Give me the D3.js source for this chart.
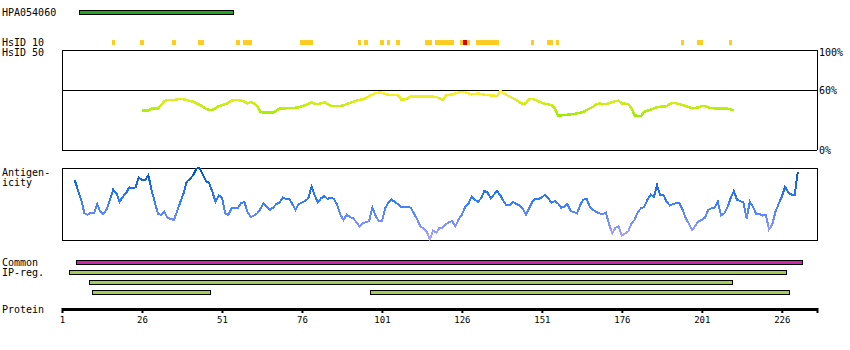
<!DOCTYPE html>
<html>
<head>
<meta charset="utf-8">
<script src="https://cdn.jsdelivr.net/npm/d3@7"></script>
<style>
  html, body { margin: 0; padding: 0; background: #fff; }
  svg text { font-family: "DejaVu Sans Mono", "Liberation Mono", monospace; font-size: 10px; fill: #000; }
  svg .tick text { font-size: 9px; }
</style>
</head>
<body>
<svg id="chart" width="850" height="350"></svg>
<script>
// Protein length and axis ticks
const proteinLength = 237;
const tickResidues = [1, 26, 51, 76, 101, 126, 151, 176, 201, 226];

// Antibody antigen region
const antigenName = "HPA054060";
const antigenRange = [7, 54];

// HsID 10 hits: [start, end, level] (level 1 = high identity)
const hsid10 = [
  [17, 17, 0], [26, 26, 0], [36, 36, 0], [44, 45, 0], [56, 56, 0], [58, 60, 0],
  [76, 79, 0], [94, 94, 0], [96, 96, 0], [101, 101, 0], [103, 103, 0], [106, 106, 0],
  [115, 116, 0], [118, 123, 0], [126, 126, 0], [127, 127, 1], [128, 128, 0],
  [131, 137, 0], [148, 148, 0], [153, 154, 0], [156, 156, 0],
  [195, 195, 0], [200, 201, 0], [210, 210, 0]
];

// Sequence similarity (%), residues 26..211
const simStart = 26;
const similarity = [
  39.3, 39.3, 39.3, 41.7, 41.7, 41.7, 45.0, 49.0, 50.0, 50.0,
  50.0, 50.7, 51.0, 50.7, 50.0, 49.0, 48.3, 46.7, 45.3, 43.3,
  41.3, 40.0, 40.0, 41.7, 44.0, 44.7, 45.7, 47.3, 49.3, 50.0,
  50.0, 49.3, 48.3, 46.7, 48.0, 46.7, 44.0, 38.3, 37.3, 37.3,
  37.3, 37.3, 39.3, 41.7, 41.7, 41.7, 42.0, 42.0, 42.3, 42.7,
  44.0, 44.7, 46.0, 47.7, 46.3, 46.0, 46.7, 47.7, 46.0, 44.3,
  44.0, 44.0, 44.0, 44.7, 46.0, 47.3, 48.0, 49.3, 50.0, 50.7,
  52.0, 54.0, 55.3, 57.0, 57.3, 57.3, 56.0, 55.3, 55.0, 55.0,
  55.0, 50.7, 50.7, 51.7, 53.3, 53.3, 53.3, 53.3, 53.3, 53.3,
  53.3, 53.3, 53.0, 51.7, 50.0, 54.7, 55.0, 55.7, 56.7, 57.3,
  58.3, 57.7, 56.7, 55.7, 56.0, 56.7, 56.0, 55.3, 55.0, 54.7,
  54.3, 54.0, 59.0, 56.7, 55.0, 53.3, 51.7, 50.0, 47.7, 46.0,
  46.7, 51.0, 51.0, 50.0, 48.7, 47.3, 46.3, 45.7, 45.0, 41.7,
  34.7, 34.7, 35.0, 35.3, 35.7, 36.0, 36.7, 37.3, 38.3, 40.0,
  41.7, 43.3, 45.7, 46.7, 45.7, 46.0, 46.7, 48.0, 49.0, 49.3,
  46.7, 46.3, 46.0, 41.7, 34.7, 34.0, 34.0, 38.3, 39.3, 40.3,
  41.7, 42.7, 43.3, 43.3, 44.0, 46.0, 47.3, 46.7, 46.0, 45.0,
  44.0, 42.7, 41.7, 42.0, 42.7, 44.0, 43.7, 42.7, 42.0, 41.7,
  41.7, 41.7, 41.7, 41.3, 40.7, 39.3
];

// Antigenicity score (0 = lowest, 100 = highest), residues 5..231
const antStart = 5;
const antigenicity = [
  83, 69, 56, 37, 35, 38, 37, 50, 39, 36,
  43, 56, 70, 65, 53, 60, 65, 73, 72, 73,
  87, 83, 83, 90, 69, 53, 36, 35, 39, 31,
  29, 28, 40, 53, 65, 81, 85, 90, 99, 100,
  91, 82, 79, 67, 53, 62, 59, 37, 35, 44,
  45, 45, 51, 53, 39, 32, 34, 37, 43, 51,
  46, 42, 45, 50, 52, 59, 57, 57, 50, 42,
  50, 52, 54, 58, 74, 62, 52, 58, 61, 57,
  59, 57, 49, 35, 28, 35, 32, 30, 25, 19,
  23, 25, 26, 45, 34, 26, 26, 44, 52, 56,
  53, 50, 46, 46, 46, 45, 37, 29, 19, 16,
  12, 1, 13, 10, 17, 17, 22, 25, 26, 19,
  29, 35, 46, 50, 60, 56, 53, 58, 68, 66,
  58, 63, 68, 62, 54, 48, 48, 53, 50, 48,
  44, 35, 44, 53, 57, 57, 59, 63, 58, 52,
  54, 51, 45, 46, 50, 40, 39, 37, 49, 56,
  57, 46, 42, 39, 37, 36, 38, 22, 9, 17,
  19, 6, 9, 12, 23, 28, 39, 44, 46, 56,
  63, 60, 76, 62, 63, 53, 48, 50, 51, 51,
  42, 30, 22, 14, 20, 26, 28, 31, 42, 44,
  45, 53, 34, 37, 45, 58, 68, 56, 54, 52,
  30, 53, 46, 36, 36, 34, 35, 15, 21, 39,
  50, 60, 74, 66, 63, 62, 95
];

// Common region and IP-region rows: each row is a list of [start, end]
const commonRegions = [[6, 232]];
const ipRows = [
  [[4, 227]],
  [[10, 210]],
  [[11, 47], [98, 228]]
];

const svg = d3.select("#chart");
const x = d3.scaleLinear().domain([1, proteinLength]).range([62, 817]);
const xs = r => x(r - 0.5);          // left edge of a residue cell
const xe = r => x(r + 0.5);          // right edge of a residue cell

// ---------- Antigen bar ----------
svg.append("text").attr("x", 2).attr("y", 16).text(antigenName);
svg.append("rect")
  .attr("x", xs(antigenRange[0])).attr("y", 10.5)
  .attr("width", xe(antigenRange[1]) - xs(antigenRange[0])).attr("height", 4)
  .attr("fill", "#22a522").attr("stroke", "#000").attr("stroke-width", 1)
  .attr("shape-rendering", "crispEdges");

// ---------- HsID tracks ----------
svg.append("text").attr("x", 2).attr("y", 45.5).text("HsID 10");
svg.append("text").attr("x", 2).attr("y", 55.5).text("HsID 50");
svg.selectAll("rect.hsid").data(hsid10).join("rect")
  .attr("class", "hsid")
  .attr("x", d => xs(d[0])).attr("y", 40)
  .attr("width", d => xe(d[1]) - xs(d[0])).attr("height", 5)
  .attr("fill", d => d[2] ? "#dd0000" : "#ffcc22")
  .attr("shape-rendering", "crispEdges");

// ---------- Similarity panel ----------
const ySim = d3.scaleLinear().domain([0, 100]).range([150, 50]);
const defs = svg.append("defs");
const simGrad = defs.append("linearGradient").attr("id", "simGrad")
  .attr("gradientUnits", "userSpaceOnUse")
  .attr("x1", 0).attr("x2", 0).attr("y1", ySim(34)).attr("y2", ySim(58));
simGrad.append("stop").attr("offset", "0%").attr("stop-color", "#99ee00");
simGrad.append("stop").attr("offset", "50%").attr("stop-color", "#ccee11");
simGrad.append("stop").attr("offset", "100%").attr("stop-color", "#ffee33");

svg.append("path")
  .attr("d", `M${x(1)},${ySim(0)}V${ySim(100)}H${x(proteinLength)}V${ySim(0)}`)
  .attr("fill", "none").attr("stroke", "#000").attr("stroke-width", 1)
  .attr("shape-rendering", "crispEdges");
svg.append("line")
  .attr("x1", x(1)).attr("x2", x(proteinLength))
  .attr("y1", ySim(60)).attr("y2", ySim(60))
  .attr("stroke", "#000").attr("stroke-width", 1).attr("shape-rendering", "crispEdges");
svg.append("line")
  .attr("x1", x(1)).attr("x2", x(proteinLength))
  .attr("y1", ySim(0)).attr("y2", ySim(0))
  .attr("stroke", "#000").attr("stroke-width", 1).attr("shape-rendering", "crispEdges");

svg.append("text").attr("x", 819).attr("y", 56).text("100%");
svg.append("text").attr("x", 819).attr("y", 94).text("60%");
svg.append("text").attr("x", 819).attr("y", 154).text("0%");

const simLine = d3.line()
  .x((d, i) => x(simStart + i))
  .y(d => ySim(d));
svg.append("path").datum(similarity)
  .attr("d", simLine)
  .attr("fill", "none").attr("stroke", "url(#simGrad)").attr("stroke-width", 2.5)
  .attr("shape-rendering", "crispEdges");

// ---------- Antigenicity panel ----------
const yAnt = d3.scaleLinear().domain([0, 100]).range([240, 168]);
const antGrad = defs.append("linearGradient").attr("id", "antGrad")
  .attr("gradientUnits", "userSpaceOnUse")
  .attr("x1", 0).attr("x2", 0).attr("y1", yAnt(0)).attr("y2", yAnt(100));
antGrad.append("stop").attr("offset", "0%").attr("stop-color", "#b4a4ff");
antGrad.append("stop").attr("offset", "30%").attr("stop-color", "#6a8cff");
antGrad.append("stop").attr("offset", "55%").attr("stop-color", "#2f7cff");
antGrad.append("stop").attr("offset", "80%").attr("stop-color", "#1466e6");
antGrad.append("stop").attr("offset", "100%").attr("stop-color", "#0050b0");

svg.append("rect")
  .attr("x", x(1)).attr("y", yAnt(100))
  .attr("width", x(proteinLength) - x(1)).attr("height", yAnt(0) - yAnt(100))
  .attr("fill", "none").attr("stroke", "#000").attr("stroke-width", 1)
  .attr("shape-rendering", "crispEdges");
svg.append("text").attr("x", 2).attr("y", 176).text("Antigen-");
svg.append("text").attr("x", 2).attr("y", 186).text("icity");

const antLine = d3.line()
  .x((d, i) => x(antStart + i))
  .y(d => yAnt(d));
svg.append("path").datum(antigenicity)
  .attr("d", antLine)
  .attr("fill", "none").attr("stroke", "url(#antGrad)").attr("stroke-width", 2)
  .attr("shape-rendering", "crispEdges");

// ---------- Common / IP regions ----------
svg.append("text").attr("x", 2).attr("y", 266).text("Common");
svg.append("text").attr("x", 2).attr("y", 276).text("IP-reg.");

function regionRow(segs, y, fill) {
  svg.append("g").selectAll("rect").data(segs).join("rect")
    .attr("x", d => xs(d[0])).attr("y", y)
    .attr("width", d => xe(d[1]) - xs(d[0])).attr("height", 4)
    .attr("fill", fill).attr("stroke", "#000").attr("stroke-width", 1)
    .attr("shape-rendering", "crispEdges");
}
regionRow(commonRegions, 260.5, "#cc2aa8");
ipRows.forEach((row, i) => regionRow(row, 270.5 + i * 10, "#a2cc5a"));

// ---------- Protein axis ----------
svg.append("text").attr("x", 2).attr("y", 313).text("Protein");
const axisG = svg.append("g").attr("transform", "translate(0,308)");
axisG.call(d3.axisBottom(x).tickValues(tickResidues.concat([proteinLength]))
  .tickFormat(d => d === proteinLength ? "" : d)
  .tickSize(5).tickPadding(4).tickSizeOuter(0));
axisG.select(".domain").remove();
axisG.selectAll(".tick line").attr("stroke", "#000").attr("stroke-width", 2);
axisG.selectAll(".tick text").attr("fill", "#000");
svg.append("line")
  .attr("x1", x(1)).attr("x2", x(proteinLength))
  .attr("y1", 309.5).attr("y2", 309.5)
  .attr("stroke", "#000").attr("stroke-width", 3);
</script>
</body>
</html>
